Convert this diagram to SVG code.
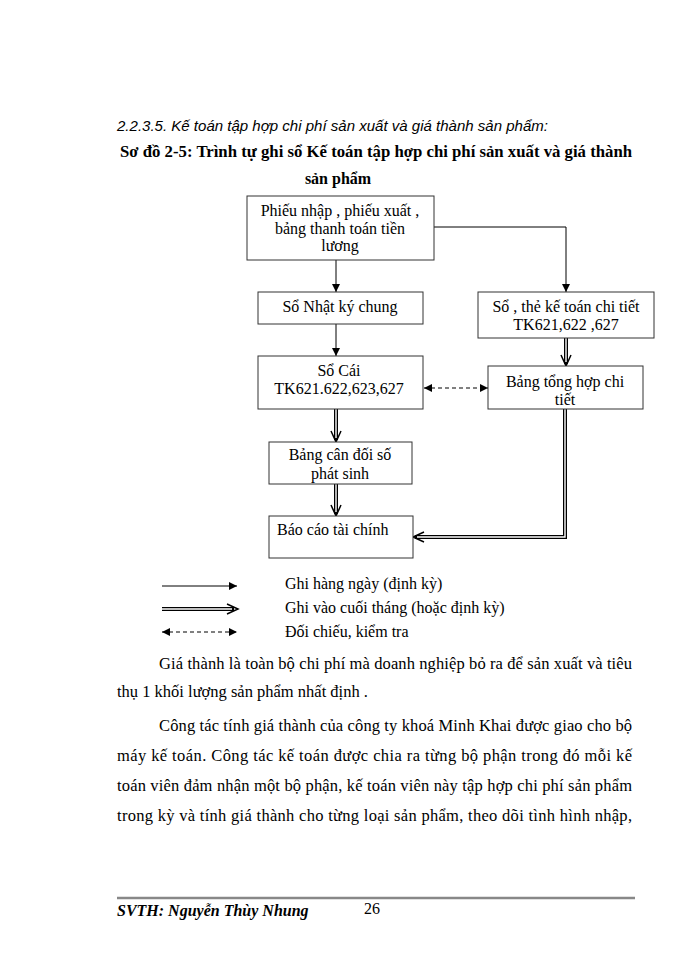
<svg xmlns="http://www.w3.org/2000/svg" width="700" height="960" viewBox="0 0 700 960">
<defs>
<style>
.t{font-family:"Liberation Serif","Times New Roman",serif;font-size:16px;fill:#000}
.b{font-size:16.5px}
.c{text-anchor:middle}
.box{fill:#fff;stroke:#333;stroke-width:1}
.ln{fill:none;stroke:#000;stroke-width:1}
.dbo{fill:none;stroke:#000;stroke-width:4}
.dbi{fill:none;stroke:#fff;stroke-width:1.4}
.dash{fill:none;stroke:#000;stroke-width:1;stroke-dasharray:4,3}
.head{fill:none;stroke:#000;stroke-width:1.5}
</style>
<marker id="ah" viewBox="0 0 10 10" refX="10" refY="5" markerWidth="8" markerHeight="8" markerUnits="userSpaceOnUse" orient="auto-start-reverse">
<path d="M0,0 L10,5 L0,10 z" fill="#000"/>
</marker>
</defs>
<rect width="700" height="960" fill="#fff"/>

<text x="117" y="131" style="font-family:'Liberation Sans',Arial,sans-serif;font-size:15px;font-style:italic;fill:#000" textLength="431" lengthAdjust="spacingAndGlyphs">2.2.3.5. Kế toán tập hợp chi phí sản xuất và giá thành sản phẩm:</text>
<text class="t" x="120" y="157" style="font-weight:bold" textLength="512" lengthAdjust="spacingAndGlyphs">Sơ đồ 2-5: Trình tự ghi sổ Kế toán tập hợp chi phí sản xuất và giá thành</text>
<text class="t c" x="338" y="184" style="font-weight:bold">sản phẩm</text>

<g id="connectors">
<line class="ln" x1="336" y1="260" x2="336" y2="292" marker-end="url(#ah)"/>
<polyline class="ln" points="434,227 566,227 566,292" marker-end="url(#ah)"/>
<line class="ln" x1="336" y1="324" x2="336" y2="356" marker-end="url(#ah)"/>
<line class="dash" x1="424" y1="388" x2="488" y2="388" marker-start="url(#ah)" marker-end="url(#ah)"/>
<g id="dbl1">
<line class="dbo" x1="566" y1="338" x2="566" y2="364"/>
<line class="dbi" x1="566" y1="338" x2="566" y2="362"/>
<polyline class="head" points="561,355 566,366 571,355"/>
</g>
<g id="dbl2">
<line class="dbo" x1="336" y1="409" x2="336" y2="440"/>
<line class="dbi" x1="336" y1="409" x2="336" y2="438"/>
<polyline class="head" points="331,431 336,442 341,431"/>
</g>
<g id="dbl3">
<line class="dbo" x1="336" y1="484" x2="336" y2="514"/>
<line class="dbi" x1="336" y1="484" x2="336" y2="512"/>
<polyline class="head" points="331,505 336,516 341,505"/>
</g>
<g id="dbl4">
<polyline class="dbo" points="565,409 565,537 415,537"/>
<polyline class="dbi" points="565,409 565,537 417,537"/>
<polyline class="head" points="424,532 413,537 424,542"/>
</g>
</g>

<g id="n1"><rect class="box" x="247" y="196" width="187" height="64"/>
<text class="t c" x="340" y="216">Phiếu nhập , phiếu xuất ,</text>
<text class="t c" x="340" y="234">bảng thanh toán tiền</text>
<text class="t c" x="340" y="251">lương</text></g>

<g id="n2"><rect class="box" x="258" y="292" width="165" height="32"/>
<text class="t c" x="340" y="312">Sổ Nhật ký chung</text></g>

<g id="n3"><rect class="box" x="478" y="292" width="176" height="46"/>
<text class="t c" x="566" y="312">Sổ , thẻ kế toán chi tiết</text>
<text class="t c" x="566" y="330">TK621,622  ,627</text></g>

<g id="n4"><rect class="box" x="258" y="356" width="165" height="53"/>
<text class="t c" x="339" y="376">Sổ Cái</text>
<text class="t c" x="339" y="394">TK621.622,623,627</text></g>

<g id="n5"><rect class="box" x="488" y="366" width="155" height="43"/>
<text class="t c" x="565" y="387">Bảng tổng hợp chi</text>
<text class="t c" x="565" y="405">tiết</text></g>

<g id="n6"><rect class="box" x="269" y="442" width="143" height="42"/>
<text class="t c" x="340" y="460">Bảng cân đối số</text>
<text class="t c" x="340" y="479">phát sinh</text></g>

<g id="n7"><rect class="box" x="269" y="516" width="144" height="42"/>
<text class="t" x="277" y="535">Báo cáo tài chính</text></g>

<g id="legend">
<line class="ln" x1="162" y1="586" x2="237" y2="586" marker-end="url(#ah)"/>
<line class="dbo" x1="162" y1="609" x2="234" y2="609"/>
<line class="dbi" x1="162" y1="609" x2="232" y2="609"/>
<polyline class="head" points="227,604 238,609 227,614"/>
<line class="dash" x1="162" y1="632" x2="237" y2="632" marker-start="url(#ah)" marker-end="url(#ah)"/>
<text class="t" x="285" y="589">Ghi hàng ngày (định kỳ)</text>
<text class="t" x="285" y="613">Ghi vào cuối tháng (hoặc định kỳ)</text>
<text class="t" x="285" y="637">Đối chiếu, kiểm tra</text>
</g>

<g id="body">
<text class="t b" x="159" y="669" textLength="473" lengthAdjust="spacing">Giá thành là toàn bộ chi phí mà doanh nghiệp  bỏ ra để sản xuất và tiêu</text>
<text class="t b" x="117" y="697">thụ 1 khối lượng sản phẩm nhất định .</text>
<text class="t b" x="159" y="731" textLength="473" lengthAdjust="spacing">Công tác tính giá thành của công ty khoá Minh Khai được giao cho bộ</text>
<text class="t b" x="117" y="761" textLength="515" lengthAdjust="spacing">máy kế toán. Công tác kế toán được chia ra từng bộ phận trong đó mỗi kế</text>
<text class="t b" x="117" y="791" textLength="515" lengthAdjust="spacing">toán viên đảm nhận một bộ phận, kế toán viên này tập hợp chi phí sản phẩm</text>
<text class="t b" x="117" y="821" textLength="515" lengthAdjust="spacing">trong kỳ và tính giá thành cho từng loại sản phẩm, theo dõi tình hình nhập,</text>
</g>

<g id="footer">
<line x1="117" y1="898" x2="635" y2="898" stroke="#888" stroke-width="2.5"/>
<text class="t" x="117" y="916" style="font-weight:bold;font-style:italic">SVTH: Nguyễn Thùy Nhung</text>
<text class="t" x="364" y="914">26</text>
</g>
</svg>
